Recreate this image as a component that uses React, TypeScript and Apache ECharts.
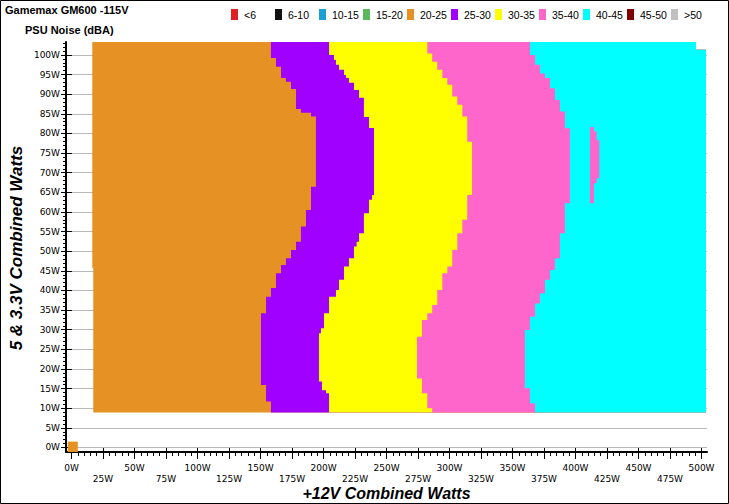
import React, { useEffect, useRef } from 'react';
import * as echarts from 'echarts';

// ---------- data ----------
const categories = ['<6', '6-10', '10-15', '15-20', '20-25', '25-30', '30-35', '35-40', '40-45', '45-50', '>50'];
const colors = ['#e02020', '#111111', '#1aa0d2', '#5cb85c', '#e69123', '#a000ff', '#ffff00', '#ff66cc', '#00ffff', '#800000', '#c0c0c0'];

const xTickValues = [0, 25, 50, 75, 100, 125, 150, 175, 200, 225, 250, 275, 300, 325, 350, 375, 400, 425, 450, 475, 500];
const yTickValues = [0, 5, 10, 15, 20, 25, 30, 35, 40, 45, 50, 55, 60, 65, 70, 75, 80, 85, 90, 95, 100];

// measured region edges (W)
const dataTop = 103.3;
const dataBottom = 8.9;

// boundaries as staircases: [from this 5&3.3V level downwards, +12V watts]
const leftEdge = [[dataTop, 16.5], [45.8, 17.3]];
const orangeToPurple = [[103.3, 158.3], [99.2, 162.3], [97.0, 166.3], [94.1, 170.2], [93.2, 174.2], [91.3, 178.2], [86.2, 182.1], [85.3, 190.1], [84.3, 194.0], [66.4, 190.1], [60.5, 186.1], [56.3, 182.1], [52.4, 178.2], [50.3, 174.2], [48.2, 170.2], [46.5, 166.3], [44.4, 162.3], [40.6, 158.3], [38.4, 154.4], [34.2, 150.4], [15.9, 154.4], [11.7, 158.3]];
const purpleToYellow = [[103.3, 204.4], [100.0, 208.3], [98.7, 209.9], [97.5, 212.3], [96.2, 216.3], [94.9, 217.9], [94.1, 220.2], [92.9, 224.2], [91.1, 228.2], [89.1, 232.1], [84.2, 236.1], [81.4, 240.1], [64.3, 238.5], [63.1, 236.1], [59.7, 232.1], [54.6, 228.2], [52.4, 226.3], [51.2, 224.2], [48.2, 220.2], [46.1, 216.3], [42.7, 212.3], [40.1, 209.9], [38.4, 204.4], [34.2, 200.4], [30.4, 198.0], [29.1, 196.4], [16.8, 198.8], [14.6, 202.0], [13.8, 204.4]];
const yellowToPink = [[103.3, 282.4], [100.4, 286.3], [98.3, 290.3], [96.2, 294.3], [94.1, 298.3], [92.4, 302.2], [89.4, 306.2], [87.3, 310.2], [84.3, 314.1], [77.9, 317.9], [64.3, 314.1], [58.0, 310.2], [54.6, 306.2], [50.3, 302.2], [46.1, 298.3], [44.4, 294.3], [40.1, 290.3], [36.3, 286.3], [34.2, 282.4], [32.5, 278.2], [28.2, 274.2], [17.6, 278.2], [13.8, 282.4], [10.0, 286.3]];
const pinkToCyan = [[103.3, 363.9], [100.0, 367.9], [97.5, 371.8], [95.3, 375.8], [94.1, 379.8], [91.5, 383.7], [88.5, 387.7], [85.6, 391.7], [81.3, 395.6], [62.2, 391.7], [54.6, 387.7], [48.2, 383.7], [45.2, 379.8], [42.7, 375.8], [39.3, 371.8], [36.7, 367.9], [33.3, 363.9], [29.9, 359.9], [15.1, 363.9], [11.3, 367.9]];
const rightEdge = [[103.3, 495.6], [101.3, 503.6]];

// small 35-40 island inside 40-45 zone
const islandLeft = [[81.6, 411.5]];
const islandRight = [[81.6, 414.7], [80.5, 416.8], [78.3, 418.9], [68.6, 416.8], [67.3, 414.7]];
const islandBottom = 62.2;

// single reading at 0W / 0W
const zeroCellLeft = [[1.5, -3.0]];
const zeroCellRight = [[1.5, 5.0]];
const zeroCellBottom = -1.15;

type Stair = number[][];
type Region = { left: Stair; right: Stair; bottom: number; z2: number };

const regions: Record<string, Region[]> = {
  '20-25': [
    { left: leftEdge, right: rightEdge, bottom: dataBottom, z2: 1 },
    { left: zeroCellLeft, right: zeroCellRight, bottom: zeroCellBottom, z2: 1 },
  ],
  '25-30': [{ left: orangeToPurple, right: rightEdge, bottom: dataBottom, z2: 2 }],
  '30-35': [{ left: purpleToYellow, right: rightEdge, bottom: dataBottom, z2: 3 }],
  '35-40': [
    { left: yellowToPink, right: rightEdge, bottom: dataBottom, z2: 4 },
    { left: islandLeft, right: islandRight, bottom: islandBottom, z2: 6 },
  ],
  '40-45': [{ left: pinkToCyan, right: rightEdge, bottom: dataBottom, z2: 5 }],
};

function stairPoints(stairs: Stair, bottom: number, api: any) {
  const pts: number[][] = [];
  for (let i = 0; i < stairs.length; i++) {
    const yT = stairs[i][0];
    const x = stairs[i][1];
    const yB = i + 1 < stairs.length ? stairs[i + 1][0] : bottom;
    pts.push(api.coord([x, yT]));
    pts.push(api.coord([x, yB]));
  }
  return pts;
}

export default function App() {
  const ref = useRef<HTMLDivElement>(null);
  useEffect(() => {
    document.body.style.margin = '0';
    const chart = echarts.init(ref.current!, undefined, { renderer: 'svg' });
    const font = 'DejaVu Sans';
    const minorX: number[] = [];
    for (let v = 0; v <= 500; v += 5) minorX.push(v);
    const minorY: number[] = [];
    for (let v = 0; v <= 103; v += 1) minorY.push(v);

    const series: any[] = categories.map((name, ci) => {
      const list = regions[name] || [];
      return {
        type: 'custom',
        name,
        xAxisIndex: 0,
        yAxisIndex: 0,
        itemStyle: { color: colors[ci] },
        encode: { x: 0, y: 1 },
        data: list.map((r) => [r.left[0][1], r.bottom]),
        renderItem: (params: any, api: any) => {
          const r = list[params.dataIndex];
          const leftPts = stairPoints(r.left, r.bottom, api);
          const rightPts = stairPoints(r.right, r.bottom, api).reverse();
          return {
            type: 'polygon',
            z2: r.z2,
            shape: { points: leftPts.concat(rightPts) },
            style: { fill: colors[ci], stroke: null },
          };
        },
        silent: true,
      };
    });

    const legends = categories.map((name, i) => ({
      data: [name],
      left: 231 + 44 * i,
      top: 9,
      orient: 'horizontal',
      icon: 'rect',
      itemWidth: 7,
      itemHeight: 11,
      itemGap: 0,
      padding: 0,
      selectedMode: false,
      textStyle: { fontFamily: 'Liberation Sans', fontSize: 10.5, color: '#000', padding: [0, 0, 0, 1] },
    }));

    const xCommon = { type: 'value', min: -4.37, max: 504.4, gridIndex: 0, position: 'bottom' };
    const yCommon = { type: 'value', min: -1.15, max: 103.3, gridIndex: 0, position: 'left' };

    chart.setOption({
      animation: false,
      backgroundColor: '#ffffff',
      grid: { left: 66, right: 22, top: 42, bottom: 52, containLabel: false },
      legend: legends,
      xAxis: [
        {
          ...xCommon,
          axisLine: { show: true, onZero: false, lineStyle: { color: '#000', width: 2 } },
          axisTick: { show: true, customValues: xTickValues, length: 7, lineStyle: { color: '#000', width: 1 } },
          axisLabel: {
            show: true,
            customValues: xTickValues,
            margin: 10,
            fontFamily: font,
            fontSize: 9,
            lineHeight: 11,
            color: '#000',
            verticalAlign: 'top',
            formatter: (v: number) => (v % 50 === 25 ? '\n' + v + 'W' : v + 'W'),
          },
          splitLine: { show: false },
        },
        {
          ...xCommon,
          axisLine: { show: false, onZero: false },
          axisTick: { show: true, inside: true, customValues: xTickValues, length: 4, lineStyle: { color: '#000', width: 1 } },
          axisLabel: { show: false },
          splitLine: { show: false },
        },
        {
          ...xCommon,
          axisLine: { show: false, onZero: false },
          axisTick: { show: true, customValues: minorX, length: 4, lineStyle: { color: '#000', width: 1 } },
          axisLabel: { show: false },
          splitLine: { show: false },
        },
      ],
      yAxis: [
        {
          ...yCommon,
          axisLine: { show: true, onZero: false, lineStyle: { color: '#000', width: 2 } },
          axisTick: { show: true, customValues: yTickValues, length: 5, lineStyle: { color: '#000', width: 1 } },
          axisLabel: {
            show: true,
            customValues: yTickValues,
            margin: 6,
            fontFamily: font,
            fontSize: 9,
            color: '#000',
            formatter: (v: number) => v + 'W',
          },
          splitLine: { show: true, lineStyle: { color: '#bababa', width: 1 } },
        },
        {
          ...yCommon,
          axisLine: { show: false, onZero: false },
          axisTick: { show: true, inside: true, customValues: yTickValues, length: 6, lineStyle: { color: '#000', width: 1 } },
          axisLabel: { show: false },
          splitLine: { show: false },
        },
        {
          ...yCommon,
          axisLine: { show: false, onZero: false },
          axisTick: { show: true, customValues: minorY, length: 3, lineStyle: { color: '#000', width: 1 } },
          axisLabel: { show: false },
          splitLine: { show: false },
        },
      ],
      graphic: [
        {
          type: 'rect',
          silent: true,
          shape: { x: 0.5, y: 0.5, width: 728, height: 503 },
          style: { fill: 'none', stroke: '#000', lineWidth: 1 },
          z: 100,
        },
        {
          type: 'text',
          x: 5,
          y: 4,
          style: { text: 'Gamemax GM600 -115V', font: 'bold 11px "Liberation Sans"', fill: '#000' },
        },
        {
          type: 'text',
          x: 25,
          y: 24,
          style: { text: 'PSU Noise (dBA)', font: 'bold 11px "Liberation Sans"', fill: '#000' },
        },
        {
          type: 'text',
          x: 386.5,
          y: 493,
          style: {
            text: '+12V Combined Watts',
            font: 'italic bold 16px "Liberation Sans"',
            fill: '#000',
            align: 'center',
            verticalAlign: 'middle',
          },
        },
        {
          type: 'text',
          x: 16.5,
          y: 248,
          rotation: Math.PI / 2,
          style: {
            text: '5 & 3.3V Combined Watts',
            font: 'italic bold 17px "Liberation Sans"',
            fill: '#000',
            align: 'center',
            verticalAlign: 'middle',
          },
        },
      ],
      series,
    });
    return () => chart.dispose();
  }, []);
  return <div ref={ref} style={{ width: 729, height: 504 }} />;
}
